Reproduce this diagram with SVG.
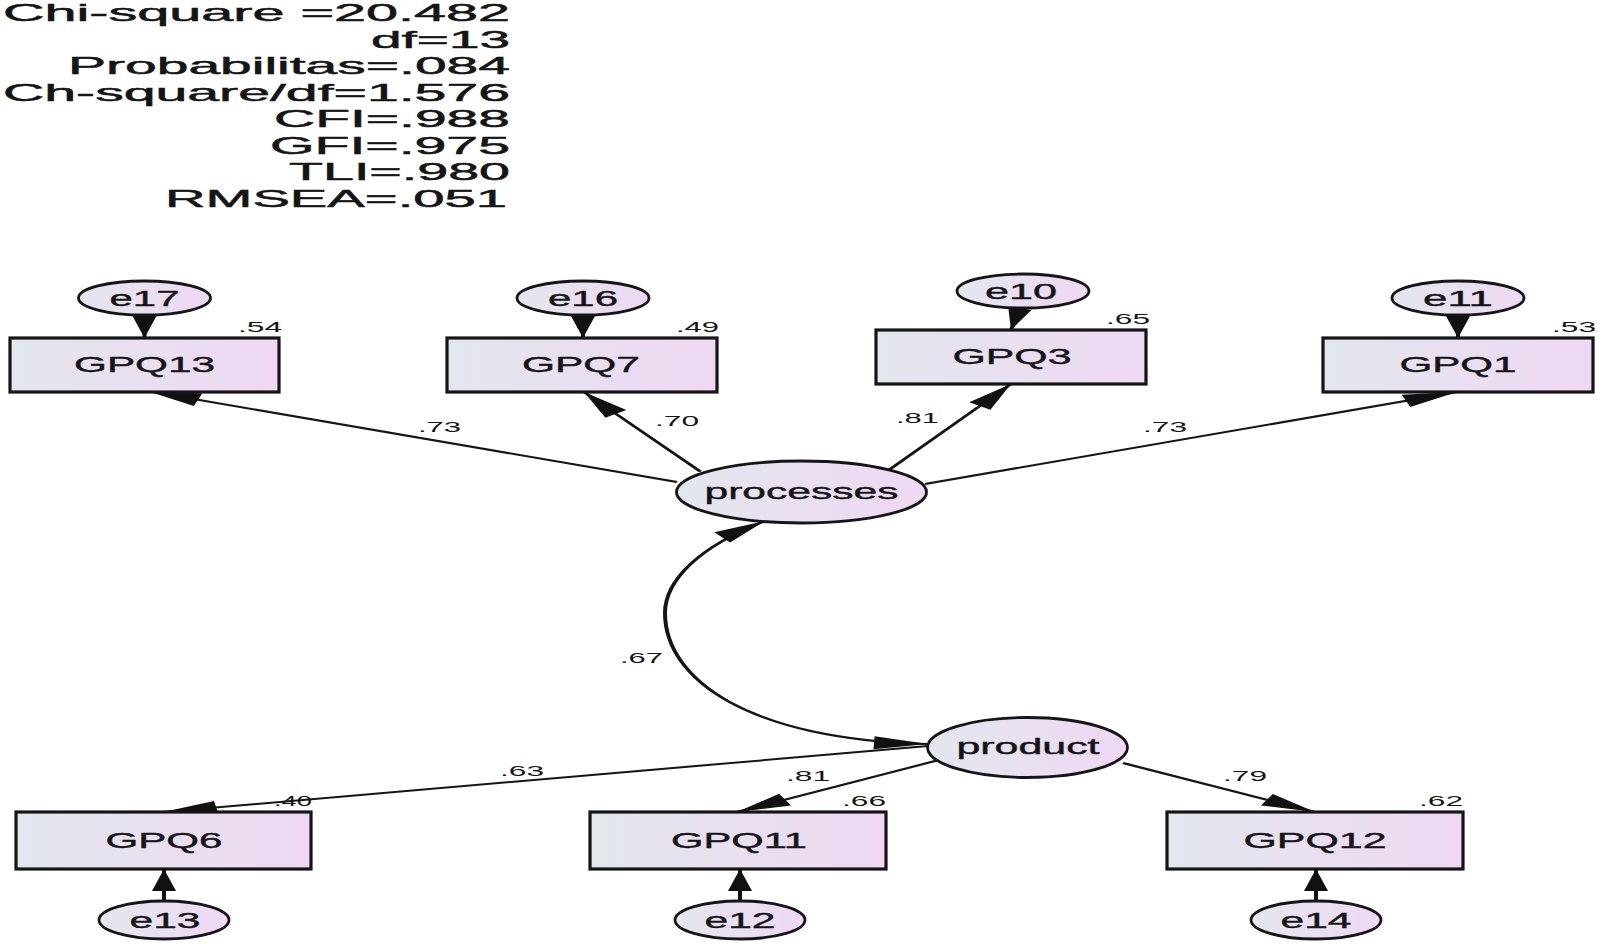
<svg xmlns="http://www.w3.org/2000/svg" width="1601" height="946" viewBox="0 0 1601 946">
<defs>
<linearGradient id="fillg" x1="0" y1="0" x2="1" y2="0">
<stop offset="0" stop-color="#e3e7ee"/>
<stop offset="1" stop-color="#efd8f3"/>
</linearGradient>
<marker id="ah" markerUnits="userSpaceOnUse" markerWidth="27" markerHeight="13" refX="27" refY="6.5" orient="auto" overflow="visible">
<path d="M0,0 L27,6.5 L0,13 z" fill="#111"/>
</marker>
<marker id="ahs" markerUnits="userSpaceOnUse" markerWidth="27" markerHeight="13" refX="27" refY="6.5" orient="auto-start-reverse" overflow="visible">
<path d="M0,0 L27,6.5 L0,13 z" fill="#111"/>
</marker>
<marker id="ahv" markerUnits="userSpaceOnUse" markerWidth="22" markerHeight="12" refX="22" refY="6" orient="auto" overflow="visible">
<path d="M0,0 L22,6 L0,12 z" fill="#111"/>
</marker>
<style>
text{font-family:"Liberation Sans",Arial,sans-serif;fill:#151515;}
.fit{font-size:24px;text-anchor:end;stroke:#151515;stroke-width:0.5;}
.lbl{font-size:22px;text-anchor:middle;stroke:#151515;stroke-width:0.4;}
.coef{font-size:15px;}
.box{fill:url(#fillg);stroke:#151515;stroke-width:3.2;}
.ell{fill:url(#fillg);stroke:#151515;stroke-width:2.8;}
.con{fill:none;stroke:#151515;stroke-width:2;marker-end:url(#ah);}
.err{fill:none;stroke:#151515;stroke-width:2;marker-end:url(#ahv);}
</style>
</defs>
<rect width="1601" height="946" fill="#ffffff"/>

<g id="fit-indices">
<text class="fit" x="510" y="21" textLength="507" lengthAdjust="spacingAndGlyphs">Chi-square =20.482</text>
<text class="fit" x="510" y="47.5" textLength="139" lengthAdjust="spacingAndGlyphs">df=13</text>
<text class="fit" x="510" y="74" textLength="442" lengthAdjust="spacingAndGlyphs">Probabilitas=.084</text>
<text class="fit" x="510" y="100.5" textLength="507" lengthAdjust="spacingAndGlyphs">Ch-square/df=1.576</text>
<text class="fit" x="510" y="127" textLength="236" lengthAdjust="spacingAndGlyphs">CFI=.988</text>
<text class="fit" x="510" y="153.5" textLength="240" lengthAdjust="spacingAndGlyphs">GFI=.975</text>
<text class="fit" x="510" y="180" textLength="221" lengthAdjust="spacingAndGlyphs">TLI=.980</text>
<text class="fit" x="507" y="206.5" textLength="342" lengthAdjust="spacingAndGlyphs">RMSEA=.051</text>
</g>

<g id="connectors" transform="scale(2 1)">
<path class="con" d="M338.5,482 L73.5,391"/>
<path class="con" d="M350.25,471.7 L292,392"/>
<path class="con" d="M444,470.7 L505.5,384"/>
<path class="con" d="M462.5,484 L728.5,392"/>
<path class="con" d="M464,746 L81.5,812"/>
<path class="con" d="M469.5,760 L368.5,812"/>
<path class="con" d="M561.5,763 L657.5,812"/>
<path class="err" d="M72.25,314 L72.25,338"/>
<path class="err" d="M291.5,314 L291.5,338"/>
<path class="err" d="M510.5,306 L505.5,330"/>
<path class="err" d="M729,314 L729,338"/>
<path class="err" d="M82,902 L82,869"/>
<path class="err" d="M370,902 L370,869"/>
<path class="err" d="M658,902 L658,869"/>
<path class="con" style="marker-start:url(#ahs)" d="M382.5,521 C350,546 332.5,580 332.5,613 C332.5,680 375,740 464,744"/>
</g>

<g id="coefficients">
<text class="coef" x="418" y="432" textLength="43" lengthAdjust="spacingAndGlyphs">.73</text>
<text class="coef" x="655" y="426" textLength="44" lengthAdjust="spacingAndGlyphs">.70</text>
<text class="coef" x="896" y="423" textLength="43" lengthAdjust="spacingAndGlyphs">.81</text>
<text class="coef" x="1143" y="432" textLength="44" lengthAdjust="spacingAndGlyphs">.73</text>
<text class="coef" x="620" y="663" textLength="43" lengthAdjust="spacingAndGlyphs">.67</text>
<text class="coef" x="500" y="776" textLength="44" lengthAdjust="spacingAndGlyphs">.63</text>
<text class="coef" x="786" y="780.5" textLength="44" lengthAdjust="spacingAndGlyphs">.81</text>
<text class="coef" x="1223" y="780.5" textLength="44" lengthAdjust="spacingAndGlyphs">.79</text>
</g>

<g id="GPQ13">
<rect class="box" x="10" y="338" width="269" height="54"/>
<text class="lbl" x="144.5" y="372" textLength="141" lengthAdjust="spacingAndGlyphs">GPQ13</text>
<text class="coef" x="238" y="332" textLength="44" lengthAdjust="spacingAndGlyphs">.54</text>
</g>
<g id="GPQ7">
<rect class="box" x="447" y="338" width="270" height="54"/>
<text class="lbl" x="581" y="372" textLength="118" lengthAdjust="spacingAndGlyphs">GPQ7</text>
<text class="coef" x="676" y="332" textLength="43" lengthAdjust="spacingAndGlyphs">.49</text>
</g>
<g id="GPQ3">
<rect class="box" x="876" y="330" width="270" height="54"/>
<text class="lbl" x="1012" y="364" textLength="119" lengthAdjust="spacingAndGlyphs">GPQ3</text>
<text class="coef" x="1106" y="324" textLength="44" lengthAdjust="spacingAndGlyphs">.65</text>
</g>
<g id="GPQ1">
<rect class="box" x="1323" y="338" width="270" height="54"/>
<text class="lbl" x="1458" y="372" textLength="117" lengthAdjust="spacingAndGlyphs">GPQ1</text>
<text class="coef" x="1552" y="332" textLength="44" lengthAdjust="spacingAndGlyphs">.53</text>
</g>
<g id="GPQ6">
<rect class="box" x="16" y="812" width="295" height="57"/>
<text class="lbl" x="164" y="848" textLength="117" lengthAdjust="spacingAndGlyphs">GPQ6</text>
<text class="coef" x="274" y="806" textLength="38" lengthAdjust="spacingAndGlyphs">.40</text>
</g>
<g id="GPQ11">
<rect class="box" x="590" y="812" width="296" height="57"/>
<text class="lbl" x="739" y="848" textLength="136" lengthAdjust="spacingAndGlyphs">GPQ11</text>
<text class="coef" x="842" y="806" textLength="44" lengthAdjust="spacingAndGlyphs">.66</text>
</g>
<g id="GPQ12">
<rect class="box" x="1167" y="812" width="296" height="57"/>
<text class="lbl" x="1315" y="848" textLength="143" lengthAdjust="spacingAndGlyphs">GPQ12</text>
<text class="coef" x="1419" y="806" textLength="44" lengthAdjust="spacingAndGlyphs">.62</text>
</g>

<g id="processes">
<ellipse class="ell" cx="801.5" cy="492" rx="125" ry="31"/>
<text class="lbl" x="801.5" y="499" textLength="194" lengthAdjust="spacingAndGlyphs">processes</text>
</g>
<g id="product">
<ellipse class="ell" cx="1027.5" cy="747.5" rx="100" ry="30"/>
<text class="lbl" x="1028" y="754" textLength="143" lengthAdjust="spacingAndGlyphs">product</text>
</g>

<g id="e17">
<ellipse class="ell" cx="144.5" cy="298" rx="66" ry="17"/>
<text class="lbl" x="144.5" y="306" textLength="70" lengthAdjust="spacingAndGlyphs">e17</text>
</g>
<g id="e16">
<ellipse class="ell" cx="583" cy="298" rx="66" ry="17"/>
<text class="lbl" x="583" y="306" textLength="70" lengthAdjust="spacingAndGlyphs">e16</text>
</g>
<g id="e10">
<ellipse class="ell" cx="1023" cy="291" rx="66" ry="17"/>
<text class="lbl" x="1021" y="299" textLength="72" lengthAdjust="spacingAndGlyphs">e10</text>
</g>
<g id="e11">
<ellipse class="ell" cx="1458" cy="298" rx="66" ry="17"/>
<text class="lbl" x="1458" y="306" textLength="70" lengthAdjust="spacingAndGlyphs">e11</text>
</g>
<g id="e13">
<ellipse class="ell" cx="164" cy="920" rx="65" ry="19"/>
<text class="lbl" x="165" y="928" textLength="71" lengthAdjust="spacingAndGlyphs">e13</text>
</g>
<g id="e12">
<ellipse class="ell" cx="740" cy="920" rx="65" ry="19"/>
<text class="lbl" x="740" y="928" textLength="71" lengthAdjust="spacingAndGlyphs">e12</text>
</g>
<g id="e14">
<ellipse class="ell" cx="1316" cy="920" rx="65" ry="19"/>
<text class="lbl" x="1316" y="928" textLength="71" lengthAdjust="spacingAndGlyphs">e14</text>
</g>
</svg>
